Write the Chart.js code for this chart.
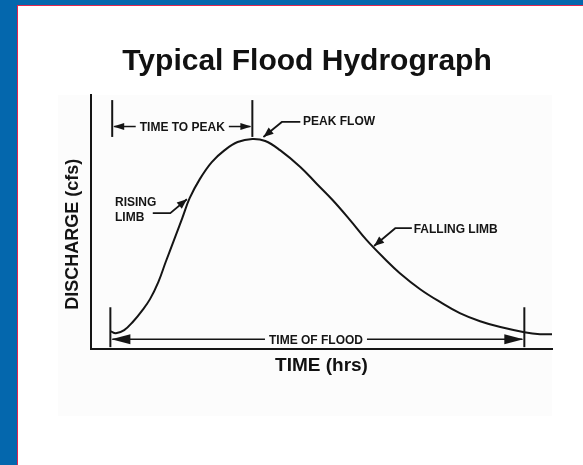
<!DOCTYPE html>
<html>
<head>
<meta charset="utf-8">
<title>Typical Flood Hydrograph</title>
<script src="https://cdn.jsdelivr.net/npm/chart.js@4.4.0/dist/chart.umd.min.js"></script>
<style>
    html, body { margin: 0; padding: 0; }
    body { width: 583px; height: 465px; background: #0467ad; position: relative; overflow: hidden; }
    #moldura { position: absolute; left: 17px; top: 5px; width: 565px; height: 459px; background: #fff;
               border-left: 1px solid #e2264f; border-top: 1px solid #e2264f; }
    #caixa { position: absolute; left: 0; top: 0; width: 565px; height: 459px; }
</style>
</head>
<body>
<div id="moldura">
    <div id="caixa"><canvas id="GraficoHidrograma"></canvas></div>
</div>
<script>
// dados (tempo em horas, vazao em cfs)
let horas = [2.1, 2.7, 3.6, 4.6, 5.5, 6.4, 7.3, 8.1, 9.0, 9.9, 10.7, 11.8, 13.1, 14.5, 15.9, 17.5,
             18.9, 20.5, 22.7, 24.5, 26.2, 28.1, 29.9, 31.9, 33.5, 35.7, 37.9, 40.0, 42.2, 44.4,
             47.0, 48.7, 50.0];
let vazao = [71, 63, 75, 110, 150, 197, 264, 343, 429, 516, 594, 669, 736, 783, 815, 827,
             819, 783, 717, 650, 587, 508, 429, 354, 299, 236, 185, 142, 110, 87,
             67, 59, 59];

let titulo = 'Typical Flood Hydrograph';
let tituloX = 'TIME (hrs)';
let tituloY = 'DISCHARGE (cfs)';

let fonte = '"Liberation Sans", Arial, sans-serif';
let corTinta = '#151515';

Chart.defaults.font.family = fonte;

function pontaSeta(ctx, x, y, angulo, comp, meia) {
    ctx.save();
    ctx.translate(x, y);
    ctx.rotate(angulo);
    ctx.beginPath();
    ctx.moveTo(0, 0);
    ctx.lineTo(-comp, -meia);
    ctx.lineTo(-comp, meia);
    ctx.closePath();
    ctx.fill();
    ctx.restore();
}

function linha(ctx, pts) {
    ctx.beginPath();
    ctx.moveTo(pts[0][0], pts[0][1]);
    for (let i = 1; i < pts.length; i++) ctx.lineTo(pts[i][0], pts[i][1]);
    ctx.stroke();
}

// cota horizontal com marcas nas pontas e texto no meio
function cota(ctx, sx, sy, c) {
    let x1 = sx.getPixelForValue(c.de), x2 = sx.getPixelForValue(c.ate);
    let y = sy.getPixelForValue(c.nivel);
    let xm = sx.getPixelForValue(c.meio);
    ctx.lineWidth = 2;
    linha(ctx, [[x1, sy.getPixelForValue(c.marcaTopo)], [x1, sy.getPixelForValue(c.marcaBase)]]);
    linha(ctx, [[x2, sy.getPixelForValue(c.marcaTopo)], [x2, sy.getPixelForValue(c.marcaBase)]]);
    let larg = ctx.measureText(c.texto).width;
    ctx.lineWidth = 1.5;
    linha(ctx, [[x1 + 2, y], [xm - larg / 2 - 4, y]]);
    linha(ctx, [[xm + larg / 2 + 4, y], [x2 - 2, y]]);
    pontaSeta(ctx, x1 + 1, y, Math.PI, c.seta[0], c.seta[1]);
    pontaSeta(ctx, x2 - 1, y, 0, c.seta[0], c.seta[1]);
    ctx.textAlign = 'center';
    ctx.fillText(c.texto, xm, y + 1);
}

// chamada com linha de chamada e seta
function chamada(ctx, sx, sy, pts) {
    let p = pts.map(function (v) { return [sx.getPixelForValue(v[0]), sy.getPixelForValue(v[1])]; });
    ctx.lineWidth = 1.8;
    linha(ctx, p);
    let a = p[p.length - 2], b = p[p.length - 1];
    pontaSeta(ctx, b[0], b[1], Math.atan2(b[1] - a[1], b[0] - a[0]), 10, 4);
}

let anotacoes = {
    id: 'anotacoes',
    beforeDraw: function (chart) {
        let ctx = chart.ctx, ca = chart.chartArea;
        ctx.save();
        ctx.fillStyle = '#fcfcfc';
        ctx.fillRect(ca.left - 33, ca.top, ca.right - ca.left + 33, ca.bottom - ca.top + 67);
        ctx.restore();
    },
    afterDraw: function (chart) {
        let ctx = chart.ctx, sx = chart.scales.x, sy = chart.scales.y;
        let iPico = vazao.indexOf(Math.max.apply(null, vazao));
        ctx.save();
        ctx.strokeStyle = corTinta;
        ctx.fillStyle = corTinta;
        ctx.font = 'bold 12px ' + fonte;
        ctx.textBaseline = 'middle';

        cota(ctx, sx, sy, { de: 2.3, ate: horas[iPico], nivel: 876, meio: 9.9, marcaTopo: 980, marcaBase: 835,
                            texto: 'TIME TO PEAK', seta: [11, 3.5] });
        cota(ctx, sx, sy, { de: horas[0], ate: 47.0, nivel: 39, meio: 24.4, marcaTopo: 165, marcaBase: 8,
                            texto: 'TIME OF FLOOD', seta: [19, 5] });

        chamada(ctx, sx, sy, [[22.7, 894], [20.7, 894], [18.7, 835]]);
        chamada(ctx, sx, sy, [[6.7, 535], [8.6, 535], [10.4, 590]]);
        chamada(ctx, sx, sy, [[34.8, 476], [33.0, 476], [30.7, 406]]);

        ctx.textAlign = 'left';
        ctx.fillText('PEAK FLOW', sx.getPixelForValue(23.0), sy.getPixelForValue(894));
        ctx.fillText('RISING', sx.getPixelForValue(2.6), sy.getPixelForValue(575));
        ctx.fillText('LIMB', sx.getPixelForValue(2.6), sy.getPixelForValue(516));
        ctx.fillText('FALLING LIMB', sx.getPixelForValue(35.0), sy.getPixelForValue(469));

        // titulo do eixo y
        ctx.translate(chart.chartArea.left - 18, sy.getPixelForValue(452));
        ctx.rotate(-Math.PI / 2);
        ctx.textAlign = 'center';
        ctx.font = 'bold 18px ' + fonte;
        ctx.fillText(tituloY, 0, 0);
        ctx.restore();
    }
};

let ctx = document.getElementById('GraficoHidrograma').getContext('2d');

let grafico = new Chart(ctx, {
    type: 'line',
    data: {
        datasets: [{
            label: 'Discharge',
            data: horas.map(function (t, i) { return { x: t, y: vazao[i] }; }),
            borderColor: corTinta,
            borderWidth: 2,
            pointRadius: 0,
            tension: 0.4,
            fill: false
        }]
    },
    options: {
        responsive: true,
        maintainAspectRatio: false,
        animation: false,
        layout: { padding: { left: 44, right: 31, top: 10, bottom: 88 } },
        plugins: {
            legend: { display: false },
            tooltip: { enabled: false },
            title: {
                display: true,
                text: titulo,
                color: '#111',
                font: { size: 30, weight: 'bold' },
                padding: { top: 28, bottom: 15 }
            }
        },
        scales: {
            x: {
                type: 'linear',
                min: 0,
                max: 50,
                ticks: { display: false },
                grid: { display: false, drawTicks: false },
                border: { display: true, color: corTinta, width: 2 },
                title: {
                    display: true,
                    text: tituloX,
                    color: '#111',
                    font: { size: 19, weight: 'bold' },
                    padding: { top: 5, bottom: 0 }
                }
            },
            y: {
                min: 0,
                max: 1000,
                ticks: { display: false },
                grid: { display: false, drawTicks: false },
                border: { display: true, color: corTinta, width: 2 },
                afterFit: function (escala) { escala.width = 29; }
            }
        }
    },
    plugins: [anotacoes]
});
</script>
</body>
</html>
